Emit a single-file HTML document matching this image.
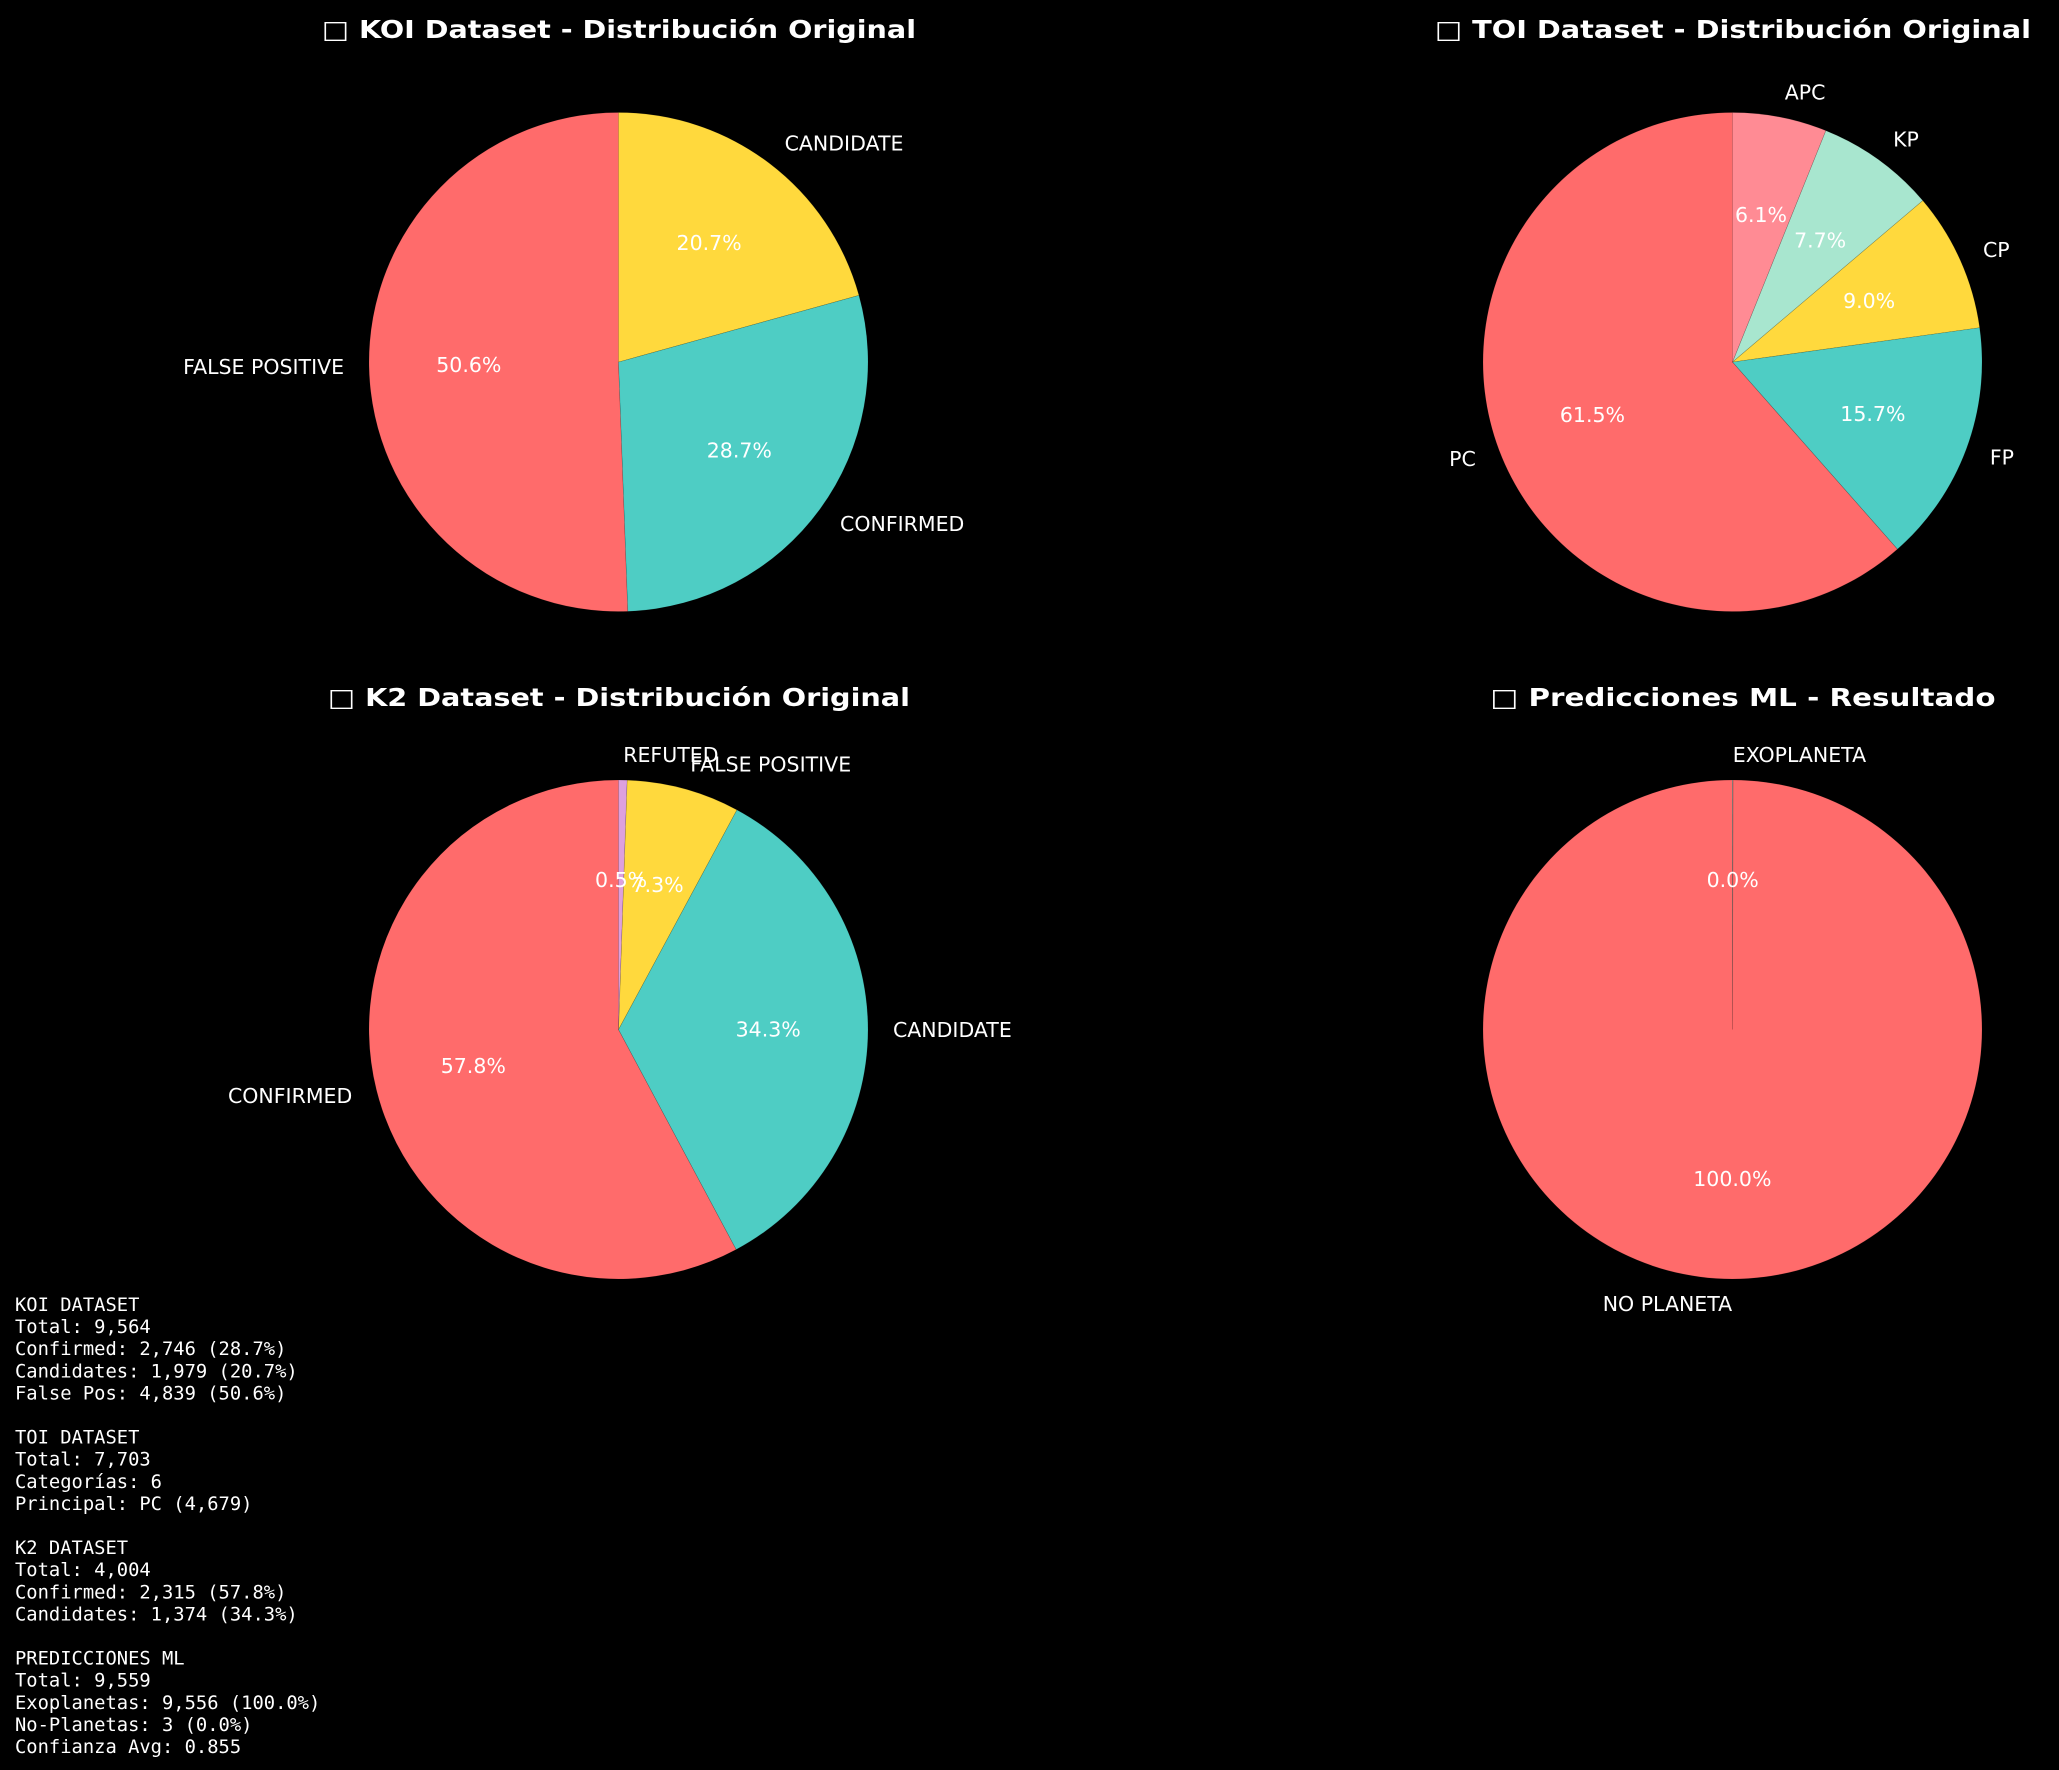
<!DOCTYPE html>
<html><head><meta charset="utf-8"><style>
html,body{margin:0;padding:0;background:#000;}
svg{display:block;}
text{font-family:"DejaVu Sans","Liberation Sans",sans-serif;fill:#fff;}
.mono{font-family:"DejaVu Sans Mono","Liberation Mono",monospace;font-size:18.8px;}
</style></head><body>
<svg id="fig" width="2059" height="1770" viewBox="0 0 2059 1770" xmlns="http://www.w3.org/2000/svg">
<rect width="2059" height="1770" fill="#000"/>
<text x="619" y="38" text-anchor="middle" font-size="25" font-weight="bold" textLength="594" lengthAdjust="spacingAndGlyphs">□ KOI Dataset - Distribución Original</text>
<text x="1733" y="38" text-anchor="middle" font-size="25" font-weight="bold" textLength="596" lengthAdjust="spacingAndGlyphs">□ TOI Dataset - Distribución Original</text>
<text x="619" y="706" text-anchor="middle" font-size="25" font-weight="bold" textLength="582" lengthAdjust="spacingAndGlyphs">□ K2 Dataset - Distribución Original</text>
<text x="1743" y="706" text-anchor="middle" font-size="25" font-weight="bold" textLength="505" lengthAdjust="spacingAndGlyphs">□ Predicciones ML - Resultado</text>
<g id="summary"></g>
</svg>
<script>
const koiLabels=["FALSE POSITIVE","CONFIRMED","CANDIDATE"];
const koiValues=[4839,2746,1979];
const toiLabels=["PC","FP","CP","KP","APC"];
const toiValues=[61.5,15.7,9.0,7.7,6.1];
const k2Labels=["CONFIRMED","CANDIDATE","FALSE POSITIVE","REFUTED"];
const k2Values=[2315,1374,293,22];
const mlLabels=["NO PLANETA","EXOPLANETA"];
const mlValues=[9556,3];
const summaryLines=["KOI DATASET","Total: 9,564","Confirmed: 2,746 (28.7%)","Candidates: 1,979 (20.7%)","False Pos: 4,839 (50.6%)","","TOI DATASET","Total: 7,703","Categorías: 6","Principal: PC (4,679)","","K2 DATASET","Total: 4,004","Confirmed: 2,315 (57.8%)","Candidates: 1,374 (34.3%)","","PREDICCIONES ML","Total: 9,559","Exoplanetas: 9,556 (100.0%)","No-Planetas: 3 (0.0%)","Confianza Avg: 0.855"];

const NS="http://www.w3.org/2000/svg";
const svg=document.getElementById('fig');
function mk(tag,attrs,parent){const e=document.createElementNS(NS,tag);for(const k in attrs)e.setAttribute(k,attrs[k]);(parent||svg).appendChild(e);return e;}

function pie(name,cx,cy,r,labels,values,colors){
  const g=mk('g',{});
  
  
  const tot=values.reduce((a,b)=>a+b,0);
  let a0=90;
  values.forEach((v,i)=>{
    const sweep=v/tot*360, a1=a0+sweep;
    const rad=d=>d*Math.PI/180;
    const x0=cx+r*Math.cos(rad(a0)),y0=cy-r*Math.sin(rad(a0));
    const x1=cx+r*Math.cos(rad(a1)),y1=cy-r*Math.sin(rad(a1));
    const large=sweep>180?1:0;
    let d;
    if(sweep>=359.999){d=`M${cx-r},${cy} A${r},${r} 0 1 0 ${cx+r},${cy} A${r},${r} 0 1 0 ${cx-r},${cy} Z`;}
    else d=`M${cx},${cy} L${x0},${y0} A${r},${r} 0 ${large} 0 ${x1},${y1} Z`;
    const p=mk('path',{d:d,fill:colors[i],stroke:'rgba(0,0,0,0.2)','stroke-width':'0.6'},g);
    
    
    const m=rad(a0+sweep/2);
    const lx=cx+1.1*r*Math.cos(m),ly=cy-1.1*r*Math.sin(m);
    const t=mk('text',{x:lx,y:ly,'font-size':'20.5','dominant-baseline':'central','text-anchor':Math.cos(m)>=0?'start':'end'},svg);
    t.textContent=labels[i];
    
    
    const px=cx+0.6*r*Math.cos(m),py=cy-0.6*r*Math.sin(m);
    const pt=mk('text',{x:px,y:py,'font-size':'20.5','dominant-baseline':'central','text-anchor':'middle'},svg);
    pt.textContent=(v/tot*100).toFixed(1)+'%';
    
    
    a0=a1;
  });
}
const R=249.5;
pie('koi',618.5,362,R,koiLabels,koiValues,['#ff6b6b','#4ecdc4','#ffd93d']);
pie('toi',1732.5,362,R,toiLabels,toiValues,['#ff6b6b','#4ecdc4','#ffd93d','#a8e6cf','#ff8b94']);
pie('k2',618.5,1029.5,R,k2Labels,k2Values,['#ff6b6b','#4ecdc4','#ffd93d','#dda0dd']);
pie('ml',1732.5,1029.5,R,mlLabels,mlValues,['#ff6b6b','#4ecdc4']);

const sg=document.getElementById('summary');
summaryLines.forEach((s,i)=>{
  const t=mk('text',{x:15,y:1311+i*22.1,'class':'mono'},sg);
  t.textContent=s;
  
  
});
</script>
</body></html>
